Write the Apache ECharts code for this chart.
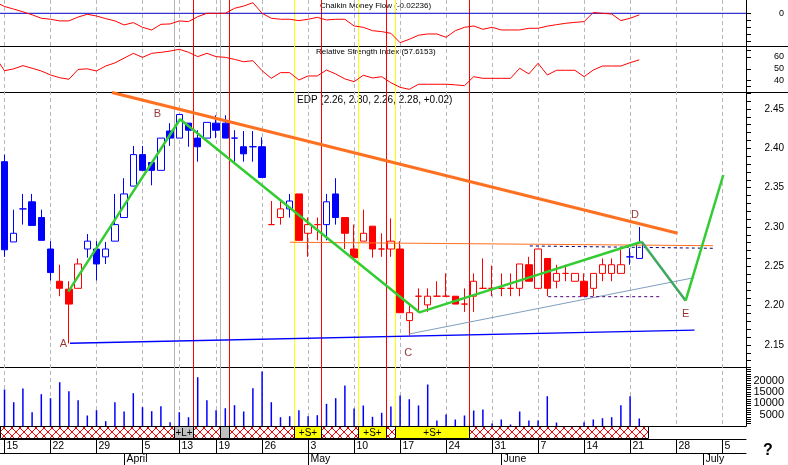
<!DOCTYPE html>
<html>
<head>
<meta charset="utf-8">
<script src="https://cdn.jsdelivr.net/npm/echarts@6.0.0/dist/echarts.min.js"></script>
<style>
html,body{margin:0;padding:0;background:#ffffff;}
#chart{width:788px;height:465px;}
</style>
</head>
<body>
<div id="chart"></div>
<script>
// ---------- DATA (trading-day index: 0 = Mon 15 March) ----------
const opens  = [2.383,2.281,2.323,2.332,2.312,2.272,2.231,2.221,2.222,2.272,2.272,2.262,2.282,2.312,2.352,2.392,2.382,2.372,2.422,2.413,2.432,2.413,2.413,2.432,2.432,2.413,2.402,2.402,2.402,2.303,2.312,2.323,2.342,2.292,2.303,2.303,2.342,2.312,2.272,2.282,2.301,2.272,2.272,2.272,2.181,2.212,2.201,2.212,2.212,2.212,2.202,2.212,2.222,2.222,2.222,2.222,2.222,2.252,2.222,2.260,2.231,2.241,2.231,2.231,2.222,2.241,2.241,2.241,2.262,2.26];
const highs  = [2.392,2.322,2.342,2.342,2.322,2.282,2.252,2.231,2.260,2.291,2.282,2.281,2.342,2.362,2.403,2.403,2.382,2.413,2.432,2.443,2.432,2.423,2.433,2.442,2.442,2.423,2.422,2.422,2.414,2.333,2.333,2.342,2.342,2.312,2.312,2.342,2.362,2.312,2.303,2.322,2.301,2.292,2.311,2.282,2.201,2.222,2.222,2.231,2.241,2.212,2.222,2.241,2.260,2.251,2.241,2.241,2.253,2.262,2.272,2.260,2.252,2.252,2.241,2.241,2.241,2.260,2.260,2.271,2.273,2.30];
const lows   = [2.262,2.281,2.303,2.302,2.283,2.232,2.212,2.152,2.222,2.261,2.232,2.253,2.282,2.312,2.352,2.372,2.353,2.372,2.403,2.413,2.402,2.383,2.413,2.413,2.413,2.383,2.383,2.383,2.363,2.303,2.303,2.312,2.283,2.262,2.283,2.283,2.303,2.272,2.261,2.282,2.261,2.262,2.262,2.191,2.162,2.192,2.192,2.212,2.212,2.202,2.192,2.192,2.222,2.212,2.212,2.212,2.212,2.231,2.222,2.212,2.222,2.231,2.231,2.212,2.212,2.231,2.231,2.241,2.252,2.26];
const closes = [2.271,2.292,2.323,2.302,2.283,2.242,2.222,2.202,2.253,2.282,2.253,2.272,2.303,2.342,2.392,2.372,2.372,2.413,2.413,2.443,2.423,2.402,2.433,2.423,2.413,2.413,2.393,2.402,2.363,2.303,2.323,2.333,2.283,2.303,2.303,2.332,2.312,2.292,2.261,2.292,2.272,2.272,2.282,2.191,2.191,2.212,2.212,2.212,2.212,2.202,2.202,2.231,2.222,2.222,2.222,2.222,2.253,2.231,2.272,2.222,2.241,2.241,2.241,2.212,2.241,2.252,2.252,2.252,2.262,2.28];
const candleColors = 'bbbbbbrrrbbbbbbbbbbbbbbbbbbbbrrbrrrbbrrrrrrrrrrrrrrrrrrrrrrrrrrrrrrrbb'.split('');
const volumes = [16100,10500,16550,6090,14030,12270,19330,15360,11390,4630,6970,2120,10500,6400,14480,8300,6530,8740,1680,6090,3880,21540,11390,6970,7850,9180,6400,16680,24050,10500,3880,4320,6970,4320,4770,9800,12270,17860,7720,9050,4060,5820,8600,13460,11830,9050,18310,2430,5070,2870,4630,6840,7280,1100,2870,660,6400,2430,2430,13150,1540,0,0,1680,2870,3440,3880,9180,13150,3310];
// indicator values start one day earlier (index -1)
const cmfValues = [0.16,0.096,0.059,0.021,-0.021,-0.070,-0.084,-0.107,-0.107,-0.053,-0.014,-0.038,-0.075,-0.107,-0.164,-0.131,-0.197,-0.235,-0.155,-0.150,-0.107,-0.117,-0.048,0,0,0,0.070,0.102,0.149,0,-0.070,-0.084,-0.084,-0.103,-0.084,-0.057,-0.094,-0.084,-0.084,-0.179,-0.197,-0.245,-0.258,-0.282,-0.414,-0.366,-0.309,-0.291,-0.291,-0.338,-0.245,-0.197,-0.179,-0.225,-0.197,-0.235,-0.235,-0.235,-0.211,-0.211,-0.181,-0.160,-0.141,-0.128,-0.117,0.011,0,-0.010,-0.103,-0.070,-0.022];
const rsiValues = [60,48.4,50.0,52.7,50.5,48.2,44.8,42.5,41.2,49.5,50.0,48.2,52.4,55.0,59.0,63.1,59.7,63.1,63.9,65.0,66.5,64.0,60.3,63.1,60.3,59.7,58.0,56.0,56.9,48.4,42.0,46.8,46.8,40.6,44.0,44.0,49.0,45.7,41.5,39.2,44.6,42.3,43.4,38.3,34.4,32.7,37.0,37.0,37.0,37.0,36.5,35.8,43.4,42.0,42.0,42.0,42.0,50.5,45.7,54.7,44.8,48.8,48.8,48.8,43.4,49.0,52.4,52.4,52.4,55.2,57.6];
const weekTickIdx = [0,5,10,15,19,23,28,33,38,43,48,53,58,63,68,73,78];
const weekTickLabels = ['15','22','29','5','13','19','26','3','10','17','24','31','7','14','21','28','5'];
const monthTickIdx = [13,33,54,76];
const monthTickLabels = ['April','May','June','July'];
const grayLineIdx = [18.5,23.5];
const redLineIdx = [20.5,24.5,34.5,41.5,50.5];
const yellowLineIdx = [31.5,38.5,42.5];
const signalStart = [-0.49,18.5,20.5,23.5,24.5,31.5,34.5,38.5,41.5,42.5,50.5];
const signalEnd   = [18.5,20.5,23.5,24.5,31.5,34.5,38.5,41.5,42.5,50.5,70.0];
const signalKind  = ['x','L','x','g','x','S','x','S','x','S','x'];
const trendLine = [[11.68,2.471],[73.17,2.292]];
const resistanceLine = [[31.03,2.2806],[77.01,2.2762]];
const zigzagMain = [[6.93,2.2178],[19.08,2.4369],[45.09,2.1915],[69.26,2.2813]];
const zigzagDE = [[69.26,2.2813],[74.04,2.2063]];
const zigzagEF = [[74.04,2.2063],[78.13,2.3661]];
const channelLine = [[44,2.164],[74.98,2.2356]];
const supportLine = [[7.12,2.1522],[75,2.169]];
const upperDashLine = [[57.1,2.2759],[77.04,2.2729]];
const lowerDashLine = [[59.1,2.2114],[71.17,2.2114]];
const pointNames = ['A','B','C','D','E'];
const pointX = [6.39,16.62,43.89,68.53,74.04];
const pointY = [2.1509,2.444,2.1397,2.3153,2.1891];
const priceLabels = [2.15,2.20,2.25,2.30,2.35,2.40,2.45];
const cmfTicks = [0,-0.1,-0.2,-0.3,-0.4];
const rsiTicks = [66,60,50,40,35];
const rsiLabels = [60,50,40];
const volLabels = [5000,10000,15000,20000];

// ---------- CHART ----------
const X_MIN = -0.49, X_MAX = 80.6;
const FONT = '"Liberation Sans", Arial, sans-serif';
const priceTicks = []; for (let k = 213; k <= 247; k++) priceTicks.push(k / 100);
const volTicks = []; for (let k = 1; k <= 26; k++) volTicks.push(k * 1000);

const pc = document.createElement('canvas'); pc.width = 8; pc.height = 8;
const g = pc.getContext('2d'); g.fillStyle = '#ffffff'; g.fillRect(0,0,8,8); g.fillStyle = '#ff0000';
for (let i = 0; i < 8; i++) { g.fillRect(i, i, 1, 1); g.fillRect(7 - i, i, 1, 1); }
const hatchPattern = {image: pc, repeat: 'repeat'};

const chart = echarts.init(document.getElementById('chart'), null, {renderer: 'canvas'});
const gridDefs = [[0,46],[46,46],[92,275],[367,59],[426,13],[439,14],[453,12],[0,426]];
const grids = gridDefs.map(d => ({left: 0, width: 746, top: d[0], height: d[1], outerBoundsMode: 'none', containLabel: false}));
const xAxes = gridDefs.map((d, i) => ({
  gridIndex: i, type: 'value', min: X_MIN, max: X_MAX,
  show: (i >= 2 && i <= 5),
  axisLine: {show: true, onZero: false, lineStyle: {color: '#000', width: 1}},
  axisTick: {show: false}, axisLabel: {show: false}, splitLine: {show: false}
}));
function rightAxis(i, min, max, ticks, labels, fs, fmt, pad) {
  return {gridIndex: i, type: 'value', position: 'right', min: min, max: max,
    axisLine: {show: true, onZero: false, lineStyle: {color: '#000', width: 1}},
    axisTick: {show: true, customValues: ticks, length: 5, inside: false, lineStyle: {color: '#000'}},
    axisLabel: {show: true, customValues: labels, align: 'right', margin: 38, fontSize: fs, color: '#000', fontFamily: FONT, formatter: fmt, padding: pad || 0},
    splitLine: {show: false}};
}
const yAxes = [
  rightAxis(0, -0.4606, 0.1873, cmfTicks, [0], 9, v => String(v)),
  rightAxis(1, 30.46, 69.28, rsiTicks, rsiLabels, 9, v => String(v)),
  rightAxis(2, 2.1220, 2.4716, priceTicks, priceLabels, 10, v => v.toFixed(2)),
  rightAxis(3, 0, 26037, volTicks, volLabels, 11, v => String(v), [4, 0, 0, 0]),
];
for (let i = 4; i < 8; i++) yAxes.push({gridIndex: i, type: 'value', min: 0, max: 1, show: false, axisLine:{onZero:false}});

const vlineData = [];
weekTickIdx.forEach(v => vlineData.push([v, 0]));
grayLineIdx.forEach(v => vlineData.push([v, 1]));
yellowLineIdx.forEach(v => vlineData.push([v, 3]));
redLineIdx.forEach(v => vlineData.push([v, 2]));
const vStyles = [
  {stroke: '#b8b8b8', lineWidth: 1, lineDash: [4, 3]},
  {stroke: '#b4b4b4', lineWidth: 1},
  {stroke: '#ff0000', lineWidth: 1},
  {stroke: '#ffff00', lineWidth: 1}
];
function vlineItem(params, api) {
  const x = api.value(0), t = api.value(1);
  const p = api.coord([x, 1]), q = api.coord([x, 0]);
  const px = Math.floor(p[0]) + 0.5;
  return {type: 'line', shape: {x1: px, y1: p[1], x2: px, y2: q[1]}, style: vStyles[t]};
}
function hatchItem(params, api) {
  const i = params.dataIndex;
  const p = api.coord([api.value(0), 1]), q = api.coord([api.value(1), 0]);
  const x0 = Math.floor(p[0]) + 0.5, x1 = Math.floor(q[0]) + 0.5;
  const y0 = Math.round(p[1]) + 0.5, y1 = Math.round(q[1]) - 0.5;
  const k = signalKind[i];
  const fill = k === 'x' ? hatchPattern : (k === 'S' ? '#ffff00' : '#c0c0c0');
  const txt = k === 'S' ? '+S+' : (k === 'L' ? '+L+' : '');
  return {type: 'group', children: [
    {type: 'rect', shape: {x: x0, y: y0, width: x1 - x0, height: y1 - y0}, style: {fill: fill, stroke: '#000', lineWidth: 1}},
    {type: 'text', x: (x0 + x1) / 2, y: (y0 + y1) / 2 + 0.5, style: {text: txt, fill: '#000', font: '10px ' + FONT, align: 'center', verticalAlign: 'middle'}}
  ]};
}
function tickLabelItem(labels) {
  return function (params, api) {
    const x = api.value(0);
    const p = api.coord([x, 1]), q = api.coord([x, 0]);
    const px = Math.floor(p[0]) + 0.5;
    return {type: 'group', children: [
      {type: 'line', shape: {x1: px, y1: p[1], x2: px, y2: q[1]}, style: {stroke: '#000', lineWidth: 1}},
      {type: 'text', x: px + 2, y: (p[1] + q[1]) / 2 + 0.5, style: {text: labels[params.dataIndex], fill: '#000', font: '10.5px ' + FONT, align: 'left', verticalAlign: 'middle'}}
    ]};
  };
}
// hollow body when close > open, filled body when close < open
const candleData = opens.map((o, i) => {
  const col = candleColors[i] === 'b' ? '#0000ff' : '#ff0000';
  const up = closes[i] >= o;
  return {value: [i, o, closes[i], lows[i], highs[i]],
    itemStyle: {color: up ? '#ffffff' : col, color0: up ? '#ffffff' : col, borderColor: col, borderColor0: col, borderColorDoji: col, borderWidth: 1}};
});
function lineSeries(data, color, width, dash) {
  return {type: 'line', xAxisIndex: 2, yAxisIndex: 2, data: data, symbol: 'none', silent: true, z: 4,
    lineStyle: {color: color, width: width, type: dash || 'solid'}};
}
const option = {
  animation: false,
  backgroundColor: '#ffffff',
  grid: grids, xAxis: xAxes, yAxis: yAxes,
  series: [
    {type: 'custom', xAxisIndex: 7, yAxisIndex: 7, data: vlineData, renderItem: vlineItem, silent: true, z: 1, clip: false},
    {type: 'line', xAxisIndex: 0, yAxisIndex: 0, data: [[X_MIN, 0], [X_MAX, 0]], symbol: 'none', silent: true, lineStyle: {color: '#0000cc', width: 1}},
    {type: 'line', xAxisIndex: 0, yAxisIndex: 0, data: cmfValues.map((v, i) => [i - 1, v]), symbol: 'none', silent: true, lineStyle: {color: '#ff0000', width: 1}},
    {type: 'line', xAxisIndex: 1, yAxisIndex: 1, data: rsiValues.map((v, i) => [i - 1, v]), symbol: 'none', silent: true, lineStyle: {color: '#ff0000', width: 1}},
    lineSeries(supportLine, '#0000ff', 1.3),
    lineSeries(channelLine, '#7f9fbf', 1),
    lineSeries(resistanceLine, '#ff7020', 1),
    lineSeries(upperDashLine, '#000080', 1, [3, 3]),
    lineSeries(lowerDashLine, '#4b0082', 1, [3, 3]),
    {type: 'candlestick', xAxisIndex: 2, yAxisIndex: 2, barWidth: 7, data: candleData, silent: true, z: 3},
    lineSeries(trendLine, '#ff7020', 3),
    lineSeries(zigzagMain, '#33cc33', 2.5),
    lineSeries(zigzagDE, '#3fa860', 2.5),
    lineSeries(zigzagEF, '#33cc33', 2.5),
    {type: 'scatter', xAxisIndex: 2, yAxisIndex: 2, symbolSize: 0, silent: true, z: 5,
      data: pointNames.map((n, i) => [pointX[i], pointY[i]]),
      label: {show: true, position: 'inside', formatter: p => pointNames[p.dataIndex], color: '#800000', fontSize: 11, fontFamily: FONT}},
    {type: 'bar', xAxisIndex: 3, yAxisIndex: 3, barWidth: 1.5, data: volumes.map((v, i) => [i, v]), itemStyle: {color: '#0000ff'}, silent: true},
    {type: 'custom', xAxisIndex: 4, yAxisIndex: 4, data: signalStart.map((s, i) => [s, signalEnd[i]]), renderItem: hatchItem, silent: true, clip: false},
    {type: 'custom', xAxisIndex: 5, yAxisIndex: 5, data: weekTickIdx.map(v => [v, 0]), renderItem: tickLabelItem(weekTickLabels), silent: true, clip: false},
    {type: 'custom', xAxisIndex: 6, yAxisIndex: 6, data: monthTickIdx.map(v => [v, 0]), renderItem: tickLabelItem(monthTickLabels), silent: true, clip: false}
  ],
  graphic: [
    {type: 'line', shape: {x1: 0, y1: 46.5, x2: 788, y2: 46.5}, style: {stroke: '#000', lineWidth: 1}, silent: true},
    {type: 'line', shape: {x1: 0, y1: 92.5, x2: 788, y2: 92.5}, style: {stroke: '#000', lineWidth: 1}, silent: true},
    {type: 'text', left: 320, top: 2, style: {text: 'Chaikin Money Flow (-0.02236)', font: '8px ' + FONT, fill: '#000'}, silent: true},
    {type: 'text', left: 316, top: 48, style: {text: 'Relative Strength Index (57.6153)', font: '8px ' + FONT, fill: '#000'}, silent: true},
    {type: 'text', left: 297, top: 95, style: {text: 'EDP (2.26, 2.30, 2.26, 2.28, +0.02)', font: '10px ' + FONT, fill: '#000'}, silent: true},
    {type: 'text', left: 763, top: 443, style: {text: '?', font: 'bold 16px ' + FONT, fill: '#000'}, silent: true}
  ]
};
chart.setOption(option);
</script>
</body>
</html>
